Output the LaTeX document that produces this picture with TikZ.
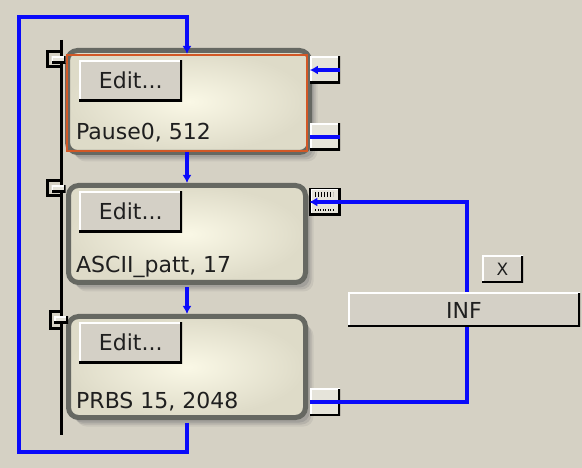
\documentclass[tikz,border=0pt]{standalone}
\usepackage{fontspec}
\setmainfont{DejaVu Sans}
\usetikzlibrary{arrows.meta,positioning,calc,shadows}
\definecolor{bg}{RGB}{213,209,196}
\definecolor{face}{RGB}{212,208,198}
\definecolor{portface}{RGB}{230,228,218}
\definecolor{frame}{RGB}{102,104,98}
\definecolor{boxhi}{RGB}{250,248,230}
\definecolor{boxlo}{RGB}{222,219,200}
\definecolor{wireblue}{RGB}{10,10,250}
\definecolor{selorange}{RGB}{210,88,38}
\tikzset{
  lbl/.style={font=\fontsize{22}{26}\selectfont,text=black!88,inner sep=0pt},
  block/.style={draw=frame,line width=5pt,rounded corners=10pt,shading=radial,
    inner color=boxhi,outer color=boxlo,minimum width=237pt,
    drop shadow={shadow xshift=8pt,shadow yshift=-9pt,opacity=.15},
    drop shadow={shadow xshift=6pt,shadow yshift=-7pt,opacity=.25},
    drop shadow={shadow xshift=4pt,shadow yshift=-5pt,opacity=.35}},
  bevel/.style={path picture={
    \draw[white,line width=3pt] (path picture bounding box.south west) |- (path picture bounding box.north east);
    \draw[black,line width=4pt] (path picture bounding box.north east) |- (path picture bounding box.south west);}},
  btn/.style={bevel,fill=face,minimum width=103pt,minimum height=41pt,lbl},
  port/.style={bevel,fill=portface,minimum width=30pt,minimum height=27pt,inner sep=0pt},
  wire/.style={draw=wireblue,line width=4pt},
  arr/.style={-{Latex[length=8pt,width=9pt]}},
  bus/.style={line width=3pt,black},
  sel/.style={draw=selorange,line width=2pt,minimum width=240pt,minimum height=96pt,inner sep=0pt},
}

\begin{document}
\begin{tikzpicture}[x=1pt,y=-1pt]
  \useasboundingbox (0,0) rectangle (582,468);
  \fill[bg] (0,0) rectangle (582,468);
  % bus rail
  \coordinate (bustop) at (61,40);
  \coordinate (busbot) at (61,435);
  \draw[bus] (bustop) -- (busbot);
  % sequence blocks
  \node[block,minimum width=242pt,minimum height=102pt] (pause) at (188.5,101.5) {};
  \node[block,minimum height=97pt] (ascii) at (187,234) {};
  \node[block,minimum height=101pt] (prbs) at (187,367) {};
  \node[sel] (selbox) at (187,103) {};
  \foreach \blk/\txt/\dy in {ascii/{ASCII\_patt, 17}/0,prbs/{PRBS 15, 2048}/0,selbox/{Pause0, 512}/2}{
    \node[btn,anchor=north west] (\blk-edit) at ($(\blk.north west)+(13,8-\dy)$) {Edit...};
    \node[lbl,anchor=base west] (\blk-name) at ($(\blk.south west)+(10,-12)$) {\txt};
  }
  \foreach \blk/\dy in {selbox/0,ascii/0,prbs/1}{
    \draw[bus] ($(\blk.north west)+(-6.5+\dy*2.5,-2)$) -- ++(-12,0) -- ++(0,15+\dy*2) -- ++(12,0);
    \node[port,minimum width=14pt,minimum height=7pt] (\blk-in) at ($(\blk.north west)+(-7.5+\dy*2.5,6)$) {};
  }
  % ports on the right
  \node[port] (p1a) at (325,70) {};
  \node[port] (p1b) at (325,137) {};
  \node[port,draw=black,line width=1.5pt] (p2) at (325,202) {};
  \node[port] (p3) at (325,402) {};
  \draw[line width=5pt,dash pattern=on 1pt off 2pt] ($(p2.north west)+(6,7)$) -- ++(18,0);
  \draw[line width=2pt,dash pattern=on 1pt off 1.5pt] ($(p2.south west)+(6,-6)$) -- ++(18,0);
  % wires
  \coordinate (loopbl) at (19,452);
  \coordinate (looptl) at (19,17);
  \coordinate (ret) at (467,300);
  \draw[wire,arr,shorten <=2.5pt] (prbs.south) |- (loopbl) -- (looptl) -| (selbox.north);
  \draw[wire,arr] (selbox.south) -- (ascii.north);
  \draw[wire,arr,shorten <=2.5pt] (ascii.south) -- (prbs.north);
  \draw[wire,arr] (p1a.east) -- (p1a.west);
  \draw[wire] (p1b.west) -- (p1b.east);
  \draw[wire,arr] (p3.west) -| (ret) |- (p2.west);
  % repeat controls
  \node[btn,minimum width=232pt,minimum height=34pt] (inf) at (464,310) {INF};
  \node[btn,minimum width=41pt,minimum height=27pt,font=\fontsize{17}{20}\selectfont] (xbtn) at (502.5,269.5) {X};
\end{tikzpicture}
\end{document}
